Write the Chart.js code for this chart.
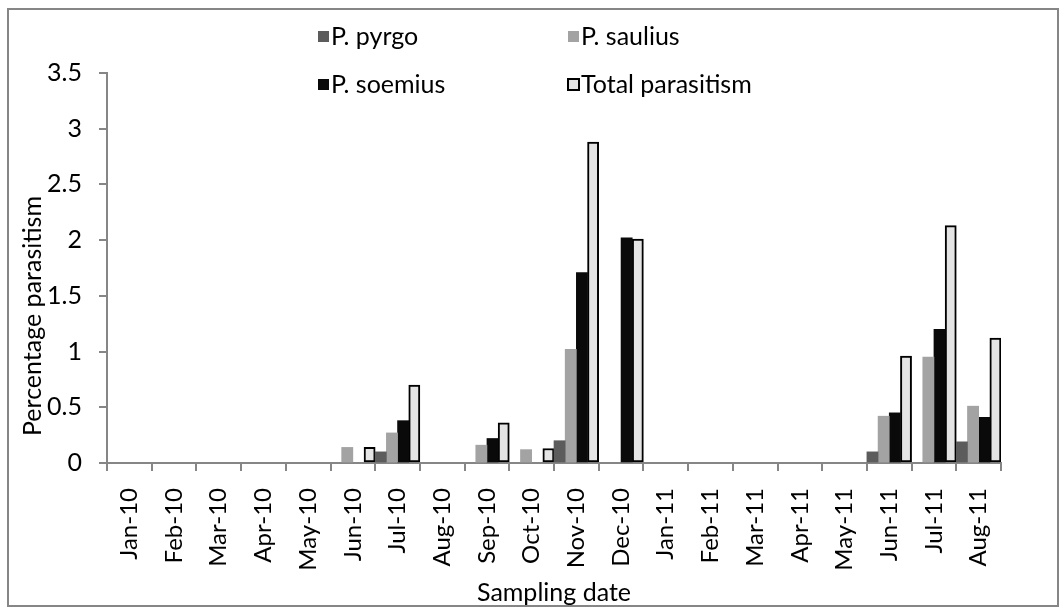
<!DOCTYPE html>
<html>
<head>
<meta charset="utf-8">
<script src="https://cdn.jsdelivr.net/npm/chart.js@4"></script>
<style>
  body { margin: 0; background: #fff; }
  #wrap { width: 1061px; height: 608px; }
</style>
</head>
<body>
<div id="wrap"><canvas id="myBarChart" width="1061" height="608"></canvas></div>
<script>
// Data
const months = ['Jan-10','Feb-10','Mar-10','Apr-10','May-10','Jun-10','Jul-10','Aug-10','Sep-10','Oct-10',
                'Nov-10','Dec-10','Jan-11','Feb-11','Mar-11','Apr-11','May-11','Jun-11','Jul-11','Aug-11'];
const pyrgo   = [0,0,0,0,0,0,   0.1, 0,0,   0,   0.2, 0,   0,0,0,0,0,0.1, 0,   0.19];
const saulius = [0,0,0,0,0,0.14,0.27,0,0.16,0.12,1.02,0,   0,0,0,0,0,0.42,0.95,0.51];
const soemius = [0,0,0,0,0,0,   0.38,0,0.22,0,   1.71,2.02,0,0,0,0,0,0.45,1.2, 0.41];
const total   = [0,0,0,0,0,0.14,0.7, 0,0.36,0.13,2.88,2.01,0,0,0,0,0,0.96,2.13,1.12];
const yTicks  = [0, 0.5, 1, 1.5, 2, 2.5, 3, 3.5];

const FONT = 'Lato';
const axisGrey = '#868686';

// Frame around the whole chart
const framePlugin = {
    id: 'frame',
    beforeDraw(chart) {
        const ctx = chart.ctx;
        ctx.save();
        ctx.fillStyle = '#fff';
        ctx.fillRect(0, 0, chart.width, chart.height);
        ctx.strokeStyle = axisGrey;
        ctx.lineWidth = 2;
        ctx.strokeRect(8, 9, 1050, 597);
        ctx.restore();
    }
};

// Legend in two rows, two columns
const legendPlugin = {
    id: 'twoRowLegend',
    afterDraw(chart) {
        const ctx = chart.ctx;
        const spots = [[318, 36], [568, 36], [318, 84], [568, 84]];
        ctx.save();
        ctx.font = '25px ' + FONT;
        ctx.textBaseline = 'middle';
        chart.data.datasets.forEach((ds, i) => {
            const [x, y] = spots[i];
            ctx.fillStyle = ds.legendColor;
            ctx.fillRect(x, y - 5, 11, 11);
            if (ds.label === 'Total parasitism') {
                ctx.strokeStyle = '#000';
                ctx.lineWidth = 2;
                ctx.strokeRect(x, y - 5, 11, 11);
            }
            ctx.fillStyle = '#000';
            ctx.fillText(ds.label, x + 13, y + 1);
        });
        ctx.restore();
    }
};

// Vertical axis title
const yTitlePlugin = {
    id: 'yTitle',
    afterDraw(chart) {
        const ctx = chart.ctx;
        ctx.save();
        ctx.translate(33, 316);
        ctx.rotate(-Math.PI / 2);
        ctx.font = '25px ' + FONT;
        ctx.fillStyle = '#000';
        ctx.textAlign = 'center';
        ctx.textBaseline = 'middle';
        ctx.fillText('Percentage parasitism', 0, 0);
        ctx.restore();
    }
};

function series(label, data, color, edge) {
    return {
        label: label,
        data: data,
        // empty months get no visible bar
        backgroundColor: (c) => (c.raw > 0 ? color : 'rgba(0,0,0,0)'),
        legendColor: color,
        borderColor: edge || color,
        borderWidth: (c) => (edge && c.raw > 0 ? 2 : 0),
        borderSkipped: false
    };
}

const data = {
    labels: months,
    datasets: [
        series('P. pyrgo', pyrgo, '#5c5c5c'),
        series('P. saulius', saulius, '#a3a3a3'),
        series('P. soemius', soemius, '#0a0a0a'),
        series('Total parasitism', total, '#e4e4e4', '#000')
    ]
};

const options = {
    responsive: false,
    animation: false,
    layout: { padding: { left: 0, top: 73, right: 60, bottom: 0 } },
    datasets: { bar: { categoryPercentage: 1, barPercentage: 1 } },
    plugins: { legend: { display: false }, tooltip: { enabled: false } },
    scales: {
        x: {
            offset: true,
            grid: { offset: true, drawOnChartArea: false, color: axisGrey, tickLength: 8, lineWidth: 2 },
            border: { color: axisGrey, width: 2 },
            ticks: { color: '#000', font: { family: FONT, size: 24 }, minRotation: 90, maxRotation: 90, padding: 17, autoSkip: false },
            title: { display: true, text: 'Sampling date', color: '#000', font: { family: FONT, size: 25 }, padding: { top: 0, bottom: 0 } },
            afterFit: (s) => { s.height = 145; }
        },
        y: {
            min: yTicks[0],
            max: yTicks[yTicks.length - 1],
            afterBuildTicks: (s) => { s.ticks = yTicks.map(v => ({ value: v })); },
            grid: { drawOnChartArea: false, color: axisGrey, tickLength: 8, lineWidth: 2 },
            border: { color: axisGrey, width: 2 },
            ticks: { color: '#000', font: { family: FONT, size: 25 }, padding: 17, callback: (v) => String(v) },
            afterFit: (s) => { s.width = 107; }
        }
    }
};

var ctx = document.getElementById('myBarChart').getContext('2d');
var myBarChart = new Chart(ctx, {
    type: 'bar',
    data: data,
    options: options,
    plugins: [framePlugin, legendPlugin, yTitlePlugin]
});
</script>
</body>
</html>
